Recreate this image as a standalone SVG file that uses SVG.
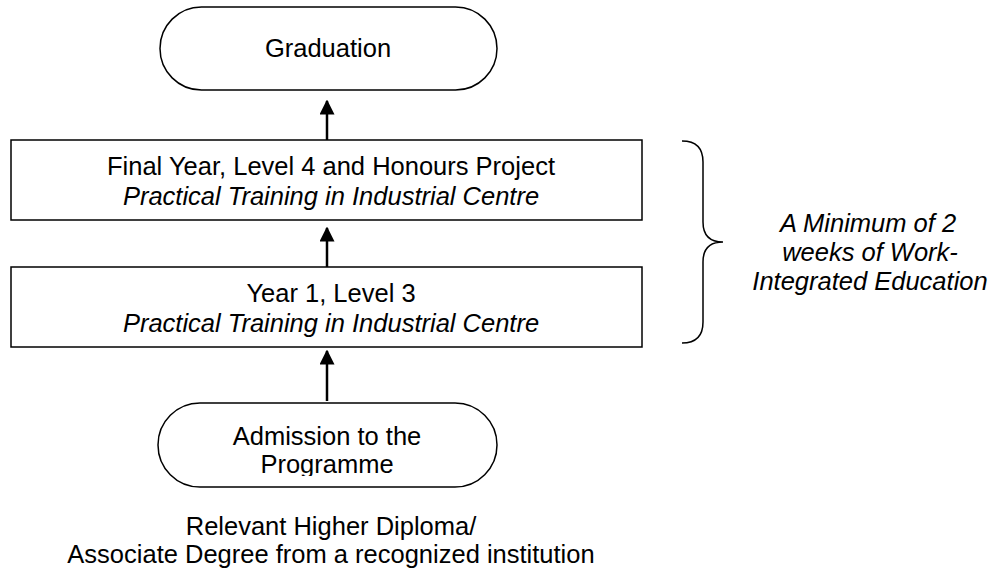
<svg xmlns="http://www.w3.org/2000/svg" width="995" height="571" viewBox="0 0 995 571">
<defs>
<style>
.shape{fill:#fff;stroke:#000;stroke-width:1.5}
.t{font-family:"Liberation Sans",Arial,sans-serif;font-size:25.5px;fill:#000;text-anchor:middle}
.i{font-style:italic}
.conn{stroke:#000;stroke-width:2.5;fill:none}
</style>
<marker id="ah" viewBox="0 0 10 10" refX="9" refY="5" markerWidth="6" markerHeight="6" markerUnits="strokeWidth" orient="auto">
<path d="M0,0 L10,5 L0,10 Z" fill="#000"/>
</marker>
<clipPath id="clipAdm"><rect x="150" y="400" width="360" height="76"/></clipPath>
</defs>
<rect width="995" height="571" fill="#fff"/>
<g id="connectors">
<line class="conn" x1="327" y1="140" x2="327" y2="101" marker-end="url(#ah)"/>
<line class="conn" x1="327" y1="267" x2="327" y2="228" marker-end="url(#ah)"/>
<line class="conn" x1="327" y1="401" x2="327" y2="351" marker-end="url(#ah)"/>
</g>
<g id="graduation">
<rect class="shape" x="160" y="7" width="337" height="83" rx="41.5" ry="41.5"/>
<text class="t" x="328" y="57">Graduation</text>
</g>
<g id="final-year">
<rect class="shape" x="11" y="140" width="631" height="80"/>
<text class="t" x="331" y="175">Final Year, Level 4 and Honours Project</text>
<text class="t i" x="331" y="205">Practical Training in Industrial Centre</text>
</g>
<g id="year-1">
<rect class="shape" x="11" y="267" width="631" height="80"/>
<text class="t" x="331" y="302">Year 1, Level 3</text>
<text class="t i" x="331" y="332">Practical Training in Industrial Centre</text>
</g>
<g id="admission">
<rect class="shape" x="158" y="403" width="339" height="84" rx="42" ry="42"/>
<g clip-path="url(#clipAdm)">
<text class="t" x="327" y="445">Admission to the</text>
<text class="t" x="327" y="473">Programme</text>
</g>
</g>
<g id="entry-note">
<text class="t" x="331" y="535">Relevant Higher Diploma/</text>
<text class="t" x="331" y="563">Associate Degree from a recognized institution</text>
</g>
<g id="wie-brace">
<path d="M682,141 C696,141 703,148 703,162 L703,222 C703,236 710,242 723,242 C710,242 703,248 703,262 L703,322 C703,336 696,343 682,343" fill="none" stroke="#000" stroke-width="1.5"/>
<text class="t i" x="868" y="232">A Minimum of 2</text>
<text class="t i" x="870" y="261">weeks of Work-</text>
<text class="t i" x="870" y="290">Integrated Education</text>
</g>
</svg>
